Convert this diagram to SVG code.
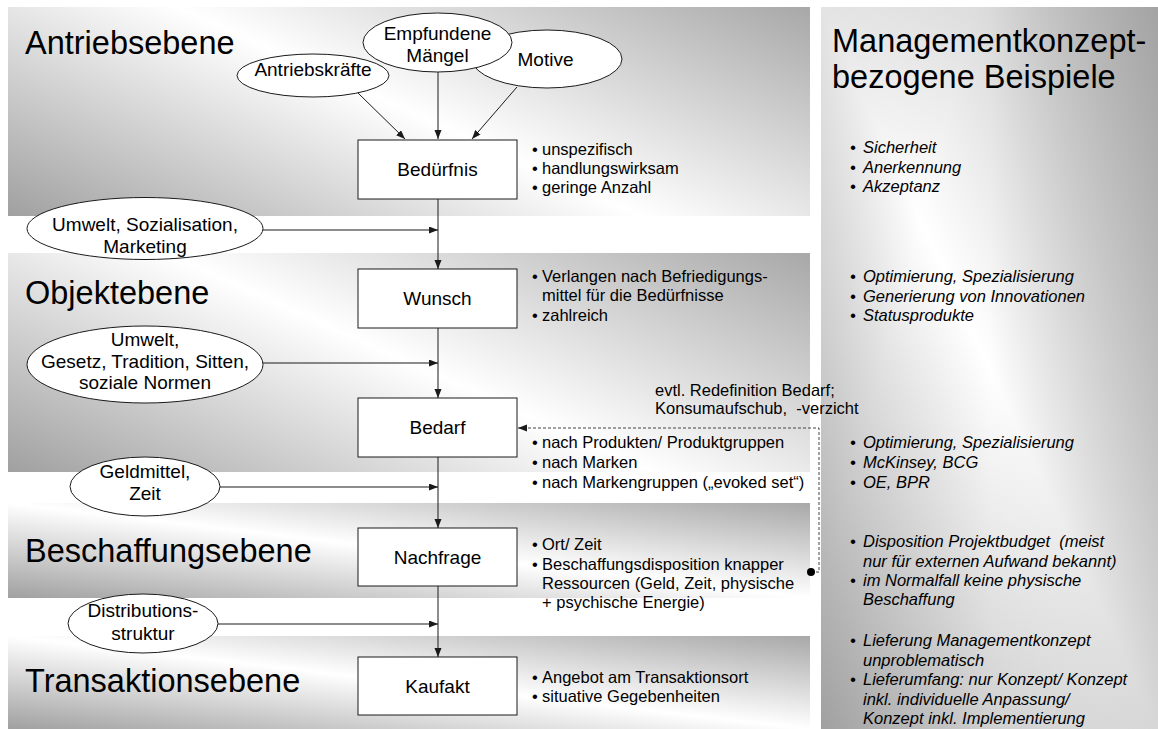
<svg xmlns="http://www.w3.org/2000/svg" width="1158" height="729" viewBox="0 0 1158 729">
  <style>
    text { font-family: "Liberation Sans", Arial, sans-serif; fill: #000; white-space: pre; }
    .level { font-size: 32.5px; }
    .head { font-size: 32.5px; }
    .node { fill: #fff; stroke: #1a1a1a; stroke-width: 1; }
    .lbl { font-size: 19px; text-anchor: middle; }
    .ell { font-size: 19px; text-anchor: middle; }
    .blt { font-size: 16.5px; }
    .ex { font-size: 16.5px; font-style: italic; }
    .edge { fill: none; stroke: #1a1a1a; stroke-width: 1; marker-end: url(#arrow); }
    .dash { fill: none; stroke: #444; stroke-width: 1; stroke-dasharray: 3 2; marker-end: url(#arrow); }
  </style>
  <defs>
    <!-- grey / white / grey diagonal shading -->
    <linearGradient id="band" x1="0" y1="1" x2="1" y2="0">
      <stop offset="0" stop-color="#a0a0a0"/>
      <stop offset="0.5" stop-color="#ffffff"/>
      <stop offset="1" stop-color="#a8a8a8"/>
    </linearGradient>
    <linearGradient id="band1" gradientUnits="userSpaceOnUse" x1="302.5" y1="348.3" x2="515.5" y2="-125.3">
      <stop offset="0" stop-color="#a0a0a0"/>
      <stop offset="0.5" stop-color="#ffffff"/>
      <stop offset="1" stop-color="#a8a8a8"/>
    </linearGradient>
    <linearGradient id="band2" gradientUnits="userSpaceOnUse" x1="300.6" y1="603.5" x2="517.4" y2="121.5">
      <stop offset="0" stop-color="#a0a0a0"/>
      <stop offset="0.5" stop-color="#ffffff"/>
      <stop offset="1" stop-color="#a8a8a8"/>
    </linearGradient>
    <linearGradient id="panel" x1="0" y1="1" x2="1" y2="0">
      <stop offset="0" stop-color="#a0a0a0"/>
      <stop offset="0.5" stop-color="#ffffff"/>
      <stop offset="1" stop-color="#b4b4b4"/>
    </linearGradient>
    <!-- extra darkening toward the right edge of the panel -->
    <linearGradient id="panel-edge" x1="0" y1="0" x2="1" y2="0">
      <stop offset="0.5" stop-color="#808080" stop-opacity="0"/>
      <stop offset="1" stop-color="#808080" stop-opacity="0.32"/>
    </linearGradient>
    <!-- slight shading at the panel's upper left -->
    <linearGradient id="panel-top" x1="0" y1="0" x2="0.35" y2="0.2">
      <stop offset="0" stop-color="#909090" stop-opacity="0.25"/>
      <stop offset="1" stop-color="#909090" stop-opacity="0"/>
    </linearGradient>
    <marker id="arrow" markerUnits="userSpaceOnUse" markerWidth="10" markerHeight="8" refX="9" refY="3.5" orient="auto">
      <path d="M0,0 L9,3.5 L0,7 z" fill="#1a1a1a"/>
    </marker>
  </defs>

  <rect width="1158" height="729" fill="#fff"/>

  <!-- level bands -->
  <g id="bands">
    <rect x="8" y="7" width="802" height="209" fill="url(#band1)"/>
    <rect x="8" y="253" width="802" height="219" fill="url(#band2)"/>
    <rect x="8" y="503" width="802" height="95" fill="url(#band)"/>
    <rect x="8" y="636" width="802" height="93" fill="url(#band)"/>
  </g>

  <!-- examples panel -->
  <g id="panel-bg">
    <rect x="821" y="7" width="337" height="722" fill="url(#panel)"/>
    <rect x="821" y="7" width="337" height="722" fill="url(#panel-edge)"/>
    <rect x="821" y="7" width="337" height="722" fill="url(#panel-top)"/>
  </g>

  <!-- level titles -->
  <g id="levels">
    <text class="level" x="25" y="54">Antriebsebene</text>
    <text class="level" x="25" y="304">Objektebene</text>
    <text class="level" x="25" y="562">Beschaffungsebene</text>
    <text class="level" x="25" y="692">Transaktionsebene</text>
  </g>

  <!-- connectors -->
  <g id="connectors">
    <line class="edge" x1="358" y1="93" x2="405" y2="139"/>
    <line class="edge" x1="438" y1="72" x2="438" y2="139"/>
    <line class="edge" x1="517" y1="87" x2="472" y2="139"/>
    <line class="edge" x1="438" y1="199" x2="438" y2="269"/>
    <line class="edge" x1="438" y1="328" x2="438" y2="398"/>
    <line class="edge" x1="438" y1="457" x2="438" y2="528"/>
    <line class="edge" x1="438" y1="586" x2="438" y2="657"/>
    <line class="edge" x1="263" y1="230" x2="438" y2="230"/>
    <line class="edge" x1="263" y1="363" x2="438" y2="363"/>
    <line class="edge" x1="220" y1="487" x2="438" y2="487"/>
    <line class="edge" x1="218" y1="624" x2="438" y2="624"/>
    <path class="dash" d="M811,572 H819 V428 H518"/>
    <circle cx="811" cy="572" r="4" fill="#000"/>
  </g>

  <!-- drive ellipses -->
  <g id="antriebskraefte">
    <ellipse class="node" cx="313" cy="75.5" rx="76" ry="21.5"/>
    <text class="ell" x="313" y="76">Antriebskräfte</text>
  </g>
  <g id="motive">
    <ellipse class="node" cx="547" cy="59" rx="75" ry="29"/>
    <text class="ell" x="545.5" y="66">Motive</text>
  </g>
  <g id="empfundene-maengel">
    <ellipse class="node" cx="437.5" cy="42.5" rx="74.5" ry="29.5"/>
    <text class="ell" x="437.5" y="40">Empfundene</text>
    <text class="ell" x="437.5" y="62">Mängel</text>
  </g>

  <!-- influence ellipses -->
  <g id="umwelt-sozialisation">
    <ellipse class="node" cx="145" cy="228.5" rx="118" ry="31"/>
    <text class="ell" x="145" y="231">Umwelt, Sozialisation,</text>
    <text class="ell" x="145" y="253">Marketing</text>
  </g>
  <g id="umwelt-normen">
    <ellipse class="node" cx="145" cy="364.5" rx="118" ry="38.5"/>
    <text class="ell" x="145" y="346">Umwelt,</text>
    <text class="ell" x="145" y="367.5">Gesetz, Tradition, Sitten,</text>
    <text class="ell" x="145" y="389">soziale Normen</text>
  </g>
  <g id="geldmittel">
    <ellipse class="node" cx="145" cy="486.5" rx="75" ry="29.5"/>
    <text class="ell" x="145" y="478">Geldmittel,</text>
    <text class="ell" x="145" y="500">Zeit</text>
  </g>
  <g id="distribution">
    <ellipse class="node" cx="143" cy="623.5" rx="75" ry="29.5"/>
    <text class="ell" x="143" y="617">Distributions-</text>
    <text class="ell" x="143" y="640">struktur</text>
  </g>

  <!-- stage boxes -->
  <g id="beduerfnis">
    <rect class="node" x="358" y="140" width="159" height="59"/>
    <text class="lbl" x="437.5" y="176">Bedürfnis</text>
  </g>
  <g id="wunsch">
    <rect class="node" x="358" y="269" width="159" height="59"/>
    <text class="lbl" x="437.5" y="305">Wunsch</text>
  </g>
  <g id="bedarf">
    <rect class="node" x="358" y="398" width="159" height="59"/>
    <text class="lbl" x="437.5" y="434">Bedarf</text>
  </g>
  <g id="nachfrage">
    <rect class="node" x="358" y="528" width="159" height="58"/>
    <text class="lbl" x="437.5" y="563.5">Nachfrage</text>
  </g>
  <g id="kaufakt">
    <rect class="node" x="358" y="657" width="159" height="58"/>
    <text class="lbl" x="437.5" y="692.5">Kaufakt</text>
  </g>

  <!-- stage characteristics -->
  <g id="notes">
    <text class="blt" y="155"><tspan x="532">•</tspan><tspan x="542">unspezifisch</tspan></text>
    <text class="blt" y="174"><tspan x="532">•</tspan><tspan x="542">handlungswirksam</tspan></text>
    <text class="blt" y="193"><tspan x="532">•</tspan><tspan x="542">geringe Anzahl</tspan></text>

    <text class="blt" y="282"><tspan x="532">•</tspan><tspan x="542">Verlangen nach Befriedigungs-</tspan></text>
    <text class="blt" x="542" y="301">mittel für die Bedürfnisse</text>
    <text class="blt" y="321"><tspan x="532">•</tspan><tspan x="542">zahlreich</tspan></text>

    <text class="blt" x="655" y="396">evtl. Redefinition Bedarf;</text>
    <text class="blt" x="655" y="414">Konsumaufschub,  -verzicht</text>

    <text class="blt" y="448"><tspan x="532">•</tspan><tspan x="542">nach Produkten/ Produktgruppen</tspan></text>
    <text class="blt" y="468"><tspan x="532">•</tspan><tspan x="542">nach Marken</tspan></text>
    <text class="blt" y="488"><tspan x="532">•</tspan><tspan x="542">nach Markengruppen („evoked set“)</tspan></text>

    <text class="blt" y="550"><tspan x="532">•</tspan><tspan x="542">Ort/ Zeit</tspan></text>
    <text class="blt" y="570"><tspan x="532">•</tspan><tspan x="542">Beschaffungsdisposition knapper</tspan></text>
    <text class="blt" x="542" y="589">Ressourcen (Geld, Zeit, physische</text>
    <text class="blt" x="542" y="608">+ psychische Energie)</text>

    <text class="blt" y="683"><tspan x="532">•</tspan><tspan x="542">Angebot am Transaktionsort</tspan></text>
    <text class="blt" y="702"><tspan x="532">•</tspan><tspan x="542">situative Gegebenheiten</tspan></text>
  </g>

  <!-- management concept examples -->
  <g id="examples">
    <text class="head" x="832" y="52">Managementkonzept-</text>
    <text class="head" x="832" y="88">bezogene Beispiele</text>

    <text class="ex" y="153"><tspan x="850">•</tspan><tspan x="863">Sicherheit</tspan></text>
    <text class="ex" y="172.5"><tspan x="850">•</tspan><tspan x="863">Anerkennung</tspan></text>
    <text class="ex" y="192"><tspan x="850">•</tspan><tspan x="863">Akzeptanz</tspan></text>

    <text class="ex" y="282"><tspan x="850">•</tspan><tspan x="863">Optimierung, Spezialisierung</tspan></text>
    <text class="ex" y="301.5"><tspan x="850">•</tspan><tspan x="863">Generierung von Innovationen</tspan></text>
    <text class="ex" y="321"><tspan x="850">•</tspan><tspan x="863">Statusprodukte</tspan></text>

    <text class="ex" y="448"><tspan x="850">•</tspan><tspan x="863">Optimierung, Spezialisierung</tspan></text>
    <text class="ex" y="468"><tspan x="850">•</tspan><tspan x="863">McKinsey, BCG</tspan></text>
    <text class="ex" y="488"><tspan x="850">•</tspan><tspan x="863">OE, BPR</tspan></text>

    <text class="ex" y="547"><tspan x="850">•</tspan><tspan x="863">Disposition Projektbudget  (meist</tspan></text>
    <text class="ex" x="863" y="566.5">nur für externen Aufwand bekannt)</text>
    <text class="ex" y="586"><tspan x="850">•</tspan><tspan x="863">im Normalfall keine physische</tspan></text>
    <text class="ex" x="863" y="605">Beschaffung</text>

    <text class="ex" y="646"><tspan x="850">•</tspan><tspan x="863">Lieferung Managementkonzept</tspan></text>
    <text class="ex" x="863" y="665.5">unproblematisch</text>
    <text class="ex" y="685"><tspan x="850">•</tspan><tspan x="863">Lieferumfang: nur Konzept/ Konzept</tspan></text>
    <text class="ex" x="863" y="704.5">inkl. individuelle Anpassung/</text>
    <text class="ex" x="863" y="724">Konzept inkl. Implementierung</text>
  </g>
</svg>
